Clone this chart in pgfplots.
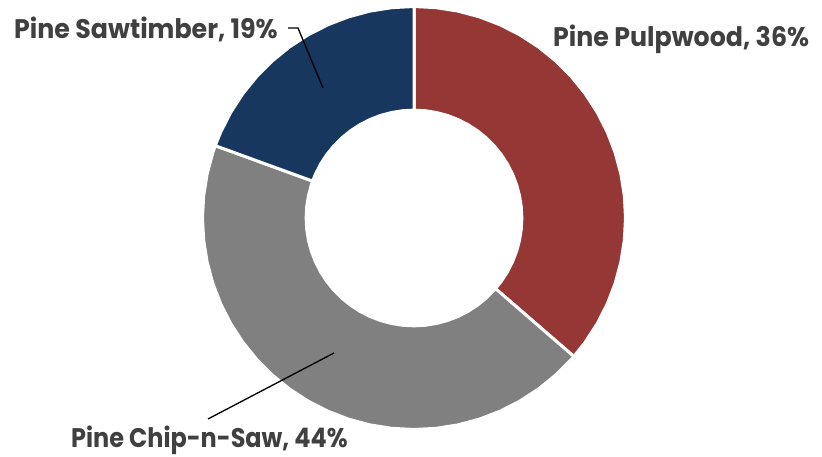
\documentclass[border=0pt]{standalone}
\usepackage{pgfplots}
\pgfplotsset{compat=1.18}
\usepgfplotslibrary{polar}
\usepackage{fontspec}
\setmainfont{Poppins}
\newfontfamily\labfont{Poppins}[FakeStretch=0.94]
\newfontfamily\labfontn{Poppins}[FakeStretch=0.89]
\definecolor{pulp}{HTML}{953735}
\definecolor{chip}{HTML}{808080}
\definecolor{saw}{HTML}{17375E}
\definecolor{txt}{HTML}{404040}

% shares (%): Pulpwood 36.4, Chip-n-Saw 44.2, Sawtimber 19.4
% slices start at 90 deg; (angle, radius) with hole radius 0.51
\begin{document}
\begin{tikzpicture}[x=1bp,y=1bp]
    \begin{polaraxis}[
            hide axis,
            scale only axis,
            width=423bp, height=423bp,
            ymin=0, ymax=1,
            clip=false,
        ]
        % Pine Pulpwood, 36.4% -> 90 to -40.9
        \addplot[fill=pulp, draw=white, line width=3bp, mark=none] coordinates {
            (-40.9,1) (-36,1) (-30,1) (-24,1) (-18,1) (-12,1) (-6,1) (0,1)
            (6,1) (12,1) (18,1) (24,1) (30,1) (36,1) (42,1) (48,1) (54,1)
            (60,1) (66,1) (72,1) (78,1) (84,1) (90,1)
            (90,0.51) (84,0.51) (78,0.51) (72,0.51) (66,0.51) (60,0.51)
            (54,0.51) (48,0.51) (42,0.51) (36,0.51) (30,0.51) (24,0.51)
            (18,0.51) (12,0.51) (6,0.51) (0,0.51) (-6,0.51) (-12,0.51)
            (-18,0.51) (-24,0.51) (-30,0.51) (-36,0.51) (-40.9,0.51)
        } -- cycle;
        % Pine Chip-n-Saw, 44.2% -> 160 to 319.1
        \addplot[fill=chip, draw=white, line width=3bp, mark=none] coordinates {
            (160,1) (162,1) (168,1) (174,1) (180,1) (186,1) (192,1) (198,1)
            (204,1) (210,1) (216,1) (222,1) (228,1) (234,1) (240,1) (246,1)
            (252,1) (258,1) (264,1) (270,1) (276,1) (282,1) (288,1) (294,1)
            (300,1) (306,1) (312,1) (318,1) (319.1,1)
            (319.1,0.51) (318,0.51) (312,0.51) (306,0.51) (300,0.51)
            (294,0.51) (288,0.51) (282,0.51) (276,0.51) (270,0.51)
            (264,0.51) (258,0.51) (252,0.51) (246,0.51) (240,0.51)
            (234,0.51) (228,0.51) (222,0.51) (216,0.51) (210,0.51)
            (204,0.51) (198,0.51) (192,0.51) (186,0.51) (180,0.51)
            (174,0.51) (168,0.51) (162,0.51) (160,0.51)
        } -- cycle;
        % Pine Sawtimber, 19.4% -> 90 to 160
        \addplot[fill=saw, draw=white, line width=3bp, mark=none] coordinates {
            (90,1) (96,1) (102,1) (108,1) (114,1) (120,1) (126,1) (132,1)
            (138,1) (144,1) (150,1) (156,1) (160,1)
            (160,0.51) (156,0.51) (150,0.51) (144,0.51) (138,0.51)
            (132,0.51) (126,0.51) (120,0.51) (114,0.51) (108,0.51)
            (102,0.51) (96,0.51) (90,0.51)
        } -- cycle;
        \coordinate (c) at (axis cs:0,0);
    \end{polaraxis}
    \begin{scope}[shift={(c)}]
        \draw[line width=1.3bp] (-126,190) -- (-116,190) -- (-91,130);
        \draw[line width=1.3bp] (-206,-201) -- (-80,-135);
        \begin{scope}[every node/.style={inner sep=0pt, text=txt,
                font=\labfont\bfseries\fontsize{27}{30}\selectfont}]
            \node[anchor=base west] at (-400,179) {Pine Sawtimber, 19\%};
            \node[anchor=base west] at (139,171) {Pine Pulpwood, 36\%};
            \node[anchor=base west, font=\labfontn\bfseries\fontsize{27}{30}\selectfont]
                at (-343,-230) {Pine Chip-n-Saw, 44\%};
        \end{scope}
        \pgfresetboundingbox
        \path (-414,-239) rectangle (408,218);
    \end{scope}
\end{tikzpicture}
\end{document}
